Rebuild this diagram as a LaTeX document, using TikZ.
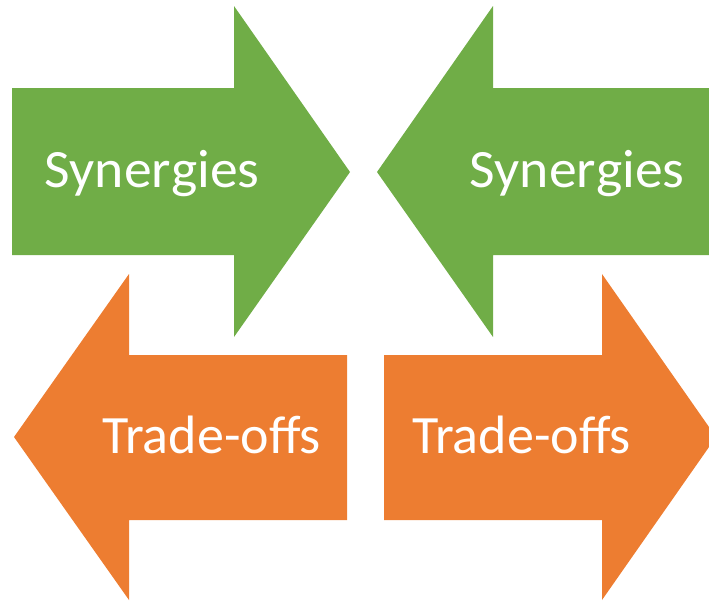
\documentclass[tikz,border=0pt]{standalone}
\usepackage{fontspec}
\setmainfont{Carlito}
\definecolor{synGreen}{RGB}{112,173,71}
\definecolor{toOrange}{RGB}{237,125,49}
\begin{document}
\begin{tikzpicture}[x=1pt,y=-1pt,
  arrowshape/.style={draw=none},
  label/.style={text=white,font=\fontsize{54}{60}\selectfont,inner sep=0pt,anchor=base west},
  synlabel/.style={label,font=\fontsize{54}{60}\selectfont\addfontfeature{Kerning=Off},xscale=1.03,transform shape}]
\useasboundingbox (0,0) rectangle (709,600);
\clip (0,0) rectangle (709,600);
% green right-pointing
\fill[synGreen,arrowshape] (12,88) -- (234,88) -- (234,6) -- (350,172) -- (234,337) -- (234,255) -- (12,255) -- cycle;
% green left-pointing
\fill[synGreen,arrowshape] (720,88) -- (493,88) -- (493,6) -- (377,172) -- (493,337) -- (493,255) -- (720,255) -- cycle;
% orange left-pointing
\fill[toOrange,arrowshape] (347,355) -- (129,355) -- (129,274) -- (14,437) -- (129,600) -- (129,520) -- (347,520) -- cycle;
% orange right-pointing
\fill[toOrange,arrowshape] (384,355) -- (602,355) -- (602,274) -- (716,437) -- (602,600) -- (602,520) -- (384,520) -- cycle;
\node[synlabel] (s1) at (44,187) {Synergies};
\node[synlabel] (s2) at (469,187) {Synergies};
\node[label] (t1) at (102,453) {Trade-offs};
\node[label] (t2) at (412,453) {Trade-offs};
\end{tikzpicture}
\end{document}
